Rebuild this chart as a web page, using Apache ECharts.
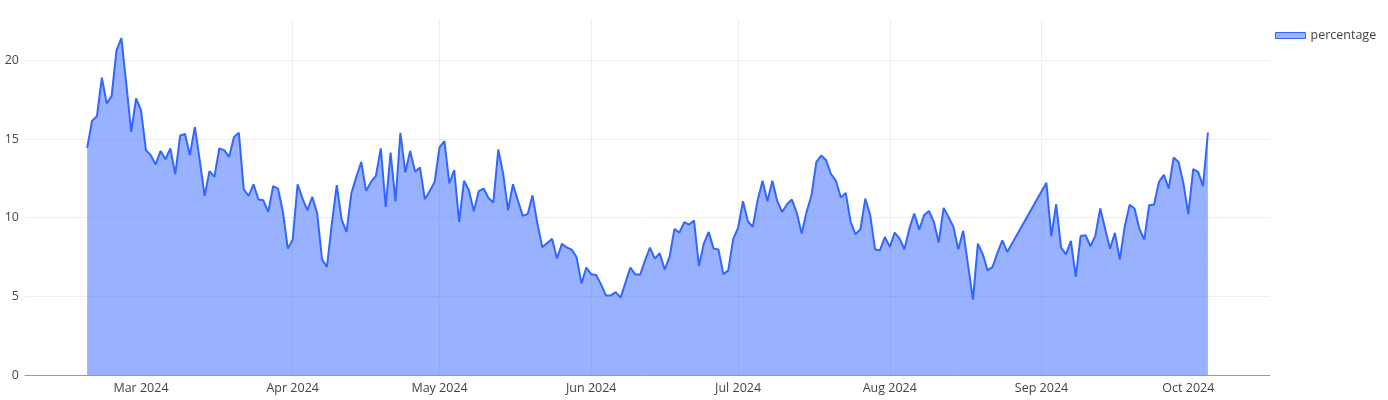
<!DOCTYPE html>
<html>
<head>
<meta charset="utf-8">
<script src="https://cdn.jsdelivr.net/npm/echarts@6/dist/echarts.min.js"></script>
<style>
html,body{margin:0;padding:0;background:#fff;}
#chart{width:1388px;height:400px;}
</style>
</head>
<body>
<div id="chart"></div>
<script>
// Daily values per month (start day given in segmentStarts)
const febValues = [14.43,16.15,16.45,18.89,17.26,17.72,20.65,21.41,18.5,15.45,17.58];
const marValues = [16.83,14.29,13.97,13.38,14.24,13.71,14.4,12.76,15.22,15.31,13.97,15.77,13.65,11.38,12.95,12.59,14.4,14.29,13.86,15.13,15.39,11.79,11.38,12.12,11.15,11.1,10.36,12.0,11.85,10.36,8.03];
const aprValues = [8.6,12.12,11.21,10.47,11.32,10.26,7.33,6.87,9.62,12.06,9.88,9.09,11.57,12.59,13.54,11.7,12.27,12.65,14.4,10.68,14.14,11.04,15.39,12.87,14.24,12.91,13.19,11.17,11.7,12.27];
const mayValues = [14.46,14.86,12.17,13.02,9.73,12.34,11.74,10.41,11.68,11.85,11.25,10.96,14.33,12.8,10.47,12.12,11.11,10.11,10.22,11.42,9.62,8.12,8.39,8.65,7.4,8.33,8.1,7.97,7.5,5.81,6.83];
const junValues = [6.4,6.36,5.76,5.06,5.06,5.27,4.92,5.87,6.83,6.38,6.38,7.29,8.1,7.4,7.74,6.7,7.5,9.28,9.05,9.71,9.56,9.81,6.93,8.35,9.09,8.03,7.97,6.4,6.65,8.63];
const julValues = [9.35,11.04,9.77,9.41,11.11,12.34,11.04,12.34,11.06,10.36,10.85,11.15,10.3,8.99,10.36,11.42,13.54,13.95,13.65,12.76,12.34,11.28,11.57,9.73,8.94,9.26,11.21,10.15,7.97,7.93,8.77];
const augValues = [8.14,9.05,8.67,7.99,9.3,10.26,9.24,10.15,10.43,9.73,8.42,10.62,10.05,9.41,7.99,9.16,6.97,4.79,8.35,7.67,6.65,6.87,7.76,8.56,7.82];
const sepValues = [12.21,8.82,10.85,8.1,7.67,8.52,6.23,8.84,8.88,8.18,8.84,10.58,9.3,8.03,9.03,7.33,9.41,10.81,10.58,9.3,8.6,10.79,10.83,12.27,12.72,11.85,13.82,13.54,12.17];
const octValues = [10.22,13.08,12.91,12.0,15.41];

// [monthIndex (0-based), first day] for each value array
const segmentStarts = [[1,19],[2,1],[3,1],[4,1],[5,1],[6,1],[7,1],[8,2],[9,1]];
const segmentValues = [febValues,marValues,aprValues,mayValues,junValues,julValues,augValues,sepValues,octValues];

const tickMonths = [2,3,4,5,6,7,8,9];
const monthNames = ['Jan','Feb','Mar','Apr','May','Jun','Jul','Aug','Sep','Oct','Nov','Dec'];
const yTicks = [0,5,10,15,20];
const seriesName = 'percentage';

const data = [];
segmentValues.forEach((vals, s) => {
  const [m, d0] = segmentStarts[s];
  vals.forEach((v, i) => {
    data.push([new Date(2024, m, d0 + i).getTime(), v]);
  });
});
const tickValues = tickMonths.map(m => new Date(2024, m, 1).getTime());
const xMin = new Date(2024, 1, 6, 7, 12).getTime();
const xMax = new Date(2024, 9, 17, 16, 30).getTime();

const font = '"Open Sans", verdana, arial, sans-serif';
const chart = echarts.init(document.getElementById('chart'), null, {renderer: 'canvas'});
chart.setOption({
  animation: false,
  backgroundColor: '#fff',
  grid: {left: 25, right: 118, top: 20, bottom: 25, containLabel: false},
  legend: {
    data: [seriesName],
    left: 1270, top: 24,
    icon: 'rect', itemWidth: 30, itemHeight: 6,
    itemStyle: {color: 'rgba(51,102,255,0.5)', borderColor: '#3366ff', borderWidth: 1},
    textStyle: {fontFamily: font, fontSize: 12.5, color: '#444'},
    itemGap: 5
  },
  xAxis: {
    type: 'value',
    min: xMin, max: xMax,
    axisLine: {show: true, lineStyle: {color: '#999', width: 1}},
    axisTick: {show: false, customValues: tickValues},
    axisLabel: {
      customValues: tickValues,
      formatter: v => { const d = new Date(v); return monthNames[d.getMonth()] + ' ' + d.getFullYear(); },
      fontFamily: font, fontSize: 12.5, color: '#444', margin: 7
    },
    splitLine: {show: true, showMinLine: false, showMaxLine: false, lineStyle: {color: '#eee', width: 1}}
  },
  yAxis: {
    type: 'value',
    min: 0, max: 22.56, interval: 5,
    axisLine: {show: false},
    axisTick: {show: false},
    axisLabel: {
      fontFamily: font, fontSize: 12.5, color: '#444', margin: 6,
      showMaxLabel: false,
      formatter: v => (yTicks.indexOf(v) >= 0 ? String(v) : '')
    },
    splitLine: {show: true, showMaxLine: false, lineStyle: {color: '#eee', width: 1}}
  },
  series: [{
    name: seriesName,
    type: 'line',
    data: data,
    showSymbol: false,
    symbol: 'none',
    lineStyle: {color: '#3366ff', width: 2},
    itemStyle: {color: '#3366ff'},
    areaStyle: {color: 'rgba(51,102,255,0.5)', opacity: 1},
    z: 3
  }]
});
</script>
</body>
</html>
